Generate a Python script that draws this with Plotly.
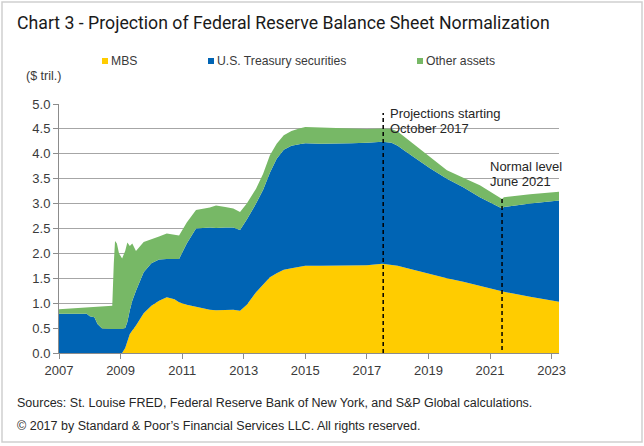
import plotly.graph_objects as go

# ---------------- data ----------------
years = [2007.00, 2007.50, 2007.90, 2008.00, 2008.15, 2008.25, 2008.40, 2008.73, 2008.78, 2008.82,
         2008.88, 2008.95, 2009.05, 2009.15, 2009.22, 2009.30, 2009.38, 2009.50, 2009.75, 2010.00,
         2010.25, 2010.50, 2010.75, 2010.90, 2011.15, 2011.45, 2011.90, 2012.10, 2012.40, 2012.66,
         2012.88, 2013.10, 2013.40, 2013.63, 2013.85, 2014.07, 2014.30, 2014.55, 2014.80, 2015.00,
         2015.50, 2016.00, 2016.50, 2017.00, 2017.50, 2017.80, 2018.00, 2018.25, 2018.50, 2019.05,
         2019.60, 2020.13, 2020.67, 2021.39, 2021.45, 2022.30, 2023.24]

mbs = [0, 0, 0, 0, 0, 0, 0, 0, 0, 0,
       0, 0, 0, 0.10, 0.25, 0.38, 0.45, 0.55, 0.80, 0.95,
       1.05, 1.12, 1.08, 1.02, 0.97, 0.93, 0.87, 0.86, 0.86, 0.87,
       0.85, 0.97, 1.22, 1.38, 1.52, 1.60, 1.67, 1.70, 1.73, 1.75,
       1.75, 1.75, 1.76, 1.76, 1.79, 1.77, 1.75, 1.71, 1.67, 1.59,
       1.50, 1.43, 1.35, 1.24, 1.23, 1.13, 1.03]

treasury = [0.79, 0.79, 0.79, 0.74, 0.72, 0.58, 0.49, 0.48, 0.48, 0.48,
            0.48, 0.48, 0.48, 0.40, 0.37, 0.48, 0.60, 0.70, 0.82, 0.85,
            0.83, 0.77, 0.81, 0.87, 1.23, 1.57, 1.65, 1.65, 1.66, 1.65,
            1.62, 1.71, 1.78, 1.90, 2.10, 2.30, 2.41, 2.46, 2.46, 2.46,
            2.45, 2.45, 2.45, 2.46, 2.45, 2.45, 2.41, 2.34, 2.27, 2.12,
            2.00, 1.90, 1.78, 1.66, 1.70, 1.87, 2.03]

other = [0.09, 0.11, 0.12, 0.17, 0.20, 0.34, 0.44, 0.47, 1.32, 1.77,
         1.72, 1.52, 1.42, 1.55, 1.60, 1.29, 1.15, 0.80, 0.61, 0.48,
         0.46, 0.51, 0.48, 0.47, 0.42, 0.37, 0.40, 0.45, 0.41, 0.38,
         0.36, 0.32, 0.30, 0.32, 0.35, 0.30, 0.29, 0.30, 0.32, 0.33,
         0.33, 0.32, 0.30, 0.28, 0.27, 0.28, 0.29, 0.28, 0.27, 0.22,
         0.17, 0.19, 0.24, 0.19, 0.20, 0.19, 0.18]

series_names = ["MBS", "U.S. Treasury securities", "Other assets"]
series_colors = ["#FFCC00", "#0064B4", "#77B866"]

x_ticks = [2007, 2009, 2011, 2013, 2015, 2017, 2019, 2021, 2023]
y_ticks = [0.0, 0.5, 1.0, 1.5, 2.0, 2.5, 3.0, 3.5, 4.0, 4.5, 5.0]

projection_start = 2017.53   # "Projections starting October 2017"
projection_top = 4.82
normal_level = 2021.39       # "Normal level June 2021"
normal_top = 3.14

title = "Chart 3 - Projection of Federal Reserve Balance Sheet Normalization"
unit_label = "($ tril.)"
source_lines = ["Sources: St. Louise FRED, Federal Reserve Bank of New York, and S&P Global calculations.",
                "\u00a9 2017 by Standard & Poor\u2019s Financial Services LLC. All rights reserved."]

# ---------------- layout geometry ----------------
W, H = 644, 446
L, R, T, B = 59, 85, 104, 93
PW, PH = W - L - R, H - T - B


def px(x):
    return (x - L) / PW


def py(y):
    return (H - B - y) / PH


FONT = "Liberation Sans, Arial, sans-serif"
TXT = "#3a3a3a"

fig = go.Figure()
for vals, name, col in zip([mbs, treasury, other], series_names, series_colors):
    fig.add_trace(go.Scatter(
        x=years, y=vals, name=name, mode="lines", stackgroup="one",
        line=dict(width=0, color=col), fillcolor=col, showlegend=False,
        hoverinfo="skip"))

# dashed event lines
fig.add_trace(go.Scatter(x=[projection_start, projection_start], y=[0, projection_top],
                         mode="lines", line=dict(color="#000000", width=1.5, dash="4px,3px"),
                         showlegend=False, hoverinfo="skip"))
fig.add_trace(go.Scatter(x=[normal_level, normal_level], y=[-0.08, normal_top],
                         mode="lines", line=dict(color="#000000", width=1.5, dash="4px,3px"),
                         showlegend=False, hoverinfo="skip", cliponaxis=False))

annotations = []
annotations.append(dict(text=title, x=px(15), y=py(23), xref="paper", yref="paper",
                        xanchor="left", yanchor="middle", showarrow=False,
                        font=dict(family="Roboto, sans-serif", size=17.7, color="#1a1a1a")))
annotations.append(dict(text=unit_label, x=px(24), y=py(76), xref="paper", yref="paper",
                        xanchor="left", yanchor="middle", showarrow=False,
                        font=dict(family=FONT, size=12.5, color=TXT)))
# legend
leg_sq = [102, 208, 417]
for xs, name, col in zip(leg_sq, series_names, series_colors):
    fig.add_shape(type="rect", xref="paper", yref="paper",
                  x0=px(xs), x1=px(xs + 6), y0=py(64), y1=py(58),
                  fillcolor=col, line=dict(width=0))
    annotations.append(dict(text=name, x=px(xs + 7), y=py(61), xref="paper", yref="paper",
                            xanchor="left", yanchor="middle", showarrow=False,
                            font=dict(family=FONT, size=12.2, color=TXT)))
# event labels
for txt, xx, yy in [("Projections starting", 388, 113), ("October 2017", 388, 128),
                    ("Normal level", 488, 166), ("June 2021", 488, 181)]:
    annotations.append(dict(text=txt, x=px(xx), y=py(yy), xref="paper", yref="paper",
                            xanchor="left", yanchor="middle", showarrow=False,
                            font=dict(family=FONT, size=13, color="#262626")))
# sources
for txt, yy in zip(source_lines, [403, 426]):
    annotations.append(dict(text=txt, x=px(15), y=py(yy), xref="paper", yref="paper",
                            xanchor="left", yanchor="middle", showarrow=False,
                            font=dict(family=FONT, size=12.5, color="#262626")))

# outer border
fig.add_shape(type="rect", xref="paper", yref="paper",
              x0=px(2), x1=px(642), y0=py(442), y1=py(2),
              line=dict(color="#cfcfcf", width=1.5), fillcolor="rgba(0,0,0,0)", layer="below")

fig.update_layout(
    width=W, height=H, margin=dict(l=L, r=R, t=T, b=B, pad=0),
    paper_bgcolor="white", plot_bgcolor="white",
    annotations=annotations, showlegend=False,
    xaxis=dict(range=[2007, 2023.24], tickvals=x_ticks, ticktext=[str(v) for v in x_ticks],
               showgrid=False, zeroline=False, showline=True, linecolor="#8c8c8c", linewidth=1,
               ticks="outside", ticklen=5, tickcolor="#8c8c8c",
               tickfont=dict(family=FONT, size=13, color=TXT)),
    yaxis=dict(range=[0, 5], tickvals=y_ticks, ticktext=[f"{v:.1f}" for v in y_ticks],
               showgrid=True, gridcolor="#a6a6a6", gridwidth=1, zeroline=False,
               showline=True, linecolor="#8c8c8c", linewidth=1,
               ticks="outside", ticklen=5, tickcolor="#8c8c8c",
               tickfont=dict(family=FONT, size=13, color=TXT)),
)

fig.write_html("out.html", config={"displayModeBar": False},
               post_script="document.body.style.margin='0';")
